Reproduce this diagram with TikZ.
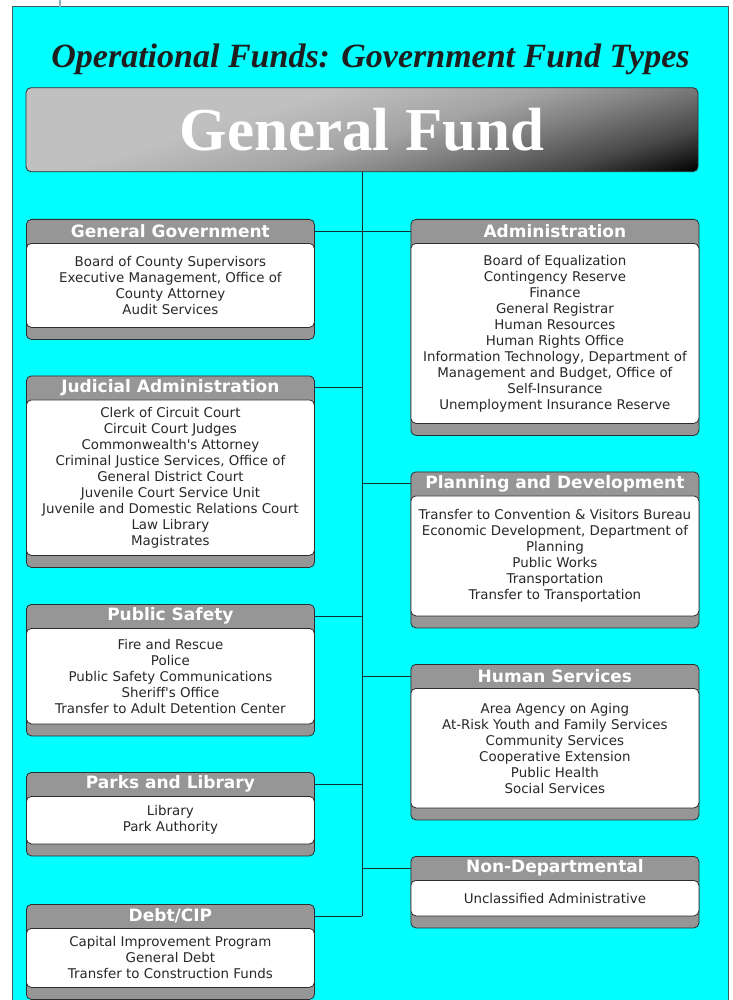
\documentclass[tikz,border=0pt]{standalone}
\usepackage{fontspec}
\usetikzlibrary{positioning}
\newfontfamily\deptfont{DejaVu Sans}
\newfontfamily\titlefont{Liberation Serif}
\definecolor{bgcyan}{RGB}{0,255,255}
\definecolor{framegray}{RGB}{60,95,95}
\definecolor{tickgray}{RGB}{140,176,190}
\definecolor{hdrgray}{RGB}{150,150,150}
\definecolor{boxline}{RGB}{45,45,45}
\definecolor{bodytext}{RGB}{40,40,40}
\definecolor{linkcol}{RGB}{20,45,45}
\definecolor{titlecol}{RGB}{30,30,30}
\definecolor{gfl}{RGB}{192,192,192}
\definecolor{gfm}{RGB}{164,164,164}
\definecolor{gfd}{RGB}{128,128,128}
\definecolor{gfk}{RGB}{72,72,72}
\pgfdeclarehorizontalshading{gfshade}{100bp}{color(0bp)=(gfl); color(41.5bp)=(gfl); color(52.5bp)=(gfm); color(59bp)=(gfd); color(67.5bp)=(gfk); color(75bp)=(black); color(100bp)=(black)}
\begin{document}
\begin{tikzpicture}[
		x=1pt, y=-1pt,
		gfbox/.style={rectangle, rounded corners=5pt, draw=boxline, line width=0.8pt, minimum width=672pt, minimum height=84pt, inner sep=0pt, text=white, font=\titlefont\bfseries\fontsize{61}{66}\selectfont},
		deptframe/.style={rectangle, rounded corners=5pt, draw=boxline, line width=0.8pt, fill=hdrgray, minimum width=288pt, inner sep=0pt, anchor=north west},
		depttitle/.style={inner sep=0pt, minimum height=24pt, text=white, font=\deptfont\bfseries\fontsize{17}{20}\selectfont},
		deptlist/.style={rectangle, rounded corners=5pt, draw=boxline, line width=0.8pt, fill=white, minimum width=288pt, inner sep=0pt, align=center, text=bodytext, font=\deptfont\fontsize{13.4}{16}\selectfont},
		link/.style={draw=linkcol, line width=0.9pt}
	]
	\useasboundingbox (0,0) rectangle (732,1000);
	\draw[framegray, fill=bgcyan, line width=1pt] (12,7) rectangle (728,1004);
	\draw[tickgray, line width=1.5pt] (60,0) -- (60,7);

	% heading
	\node[anchor=base, text=titlecol, font=\titlefont\bfseries\itshape\fontsize{34}{40}\selectfont] (title) at (370.5,68) {Operational Funds: Government Fund Types};
	\coordinate (gfc) at (362,129.7);
	\begin{scope}
		\clip[rounded corners=5pt] ([shift={(-336pt,42pt)}]gfc) rectangle ([shift={(336pt,-42pt)}]gfc);
		\begin{scope}[transform canvas={rotate around={-73.4:(gfc)}}]
			\shade[shading=gfshade] ([shift={(-135.85pt,-400pt)}]gfc) rectangle ([shift={(135.85pt,400pt)}]gfc);
		\end{scope}
	\end{scope}
	\node[gfbox] (gf) at (gfc) {General Fund};

	% left column
	\node[deptframe, minimum height=120pt] (gengov) at (26,219) {};
	\node[depttitle, below=0pt of gengov.north] (gengovtitle) {General Government};
	\node[deptlist, minimum height=84pt, below=24pt of gengov.north] (gengovlist) {Board of County Supervisors\\Executive Management, Office of\\County Attorney\\Audit Services};

	\node[deptframe, minimum height=191.5pt] (judadmin) at (26,375.5) {};
	\node[depttitle, below=0pt of judadmin.north] (judadmintitle) {Judicial Administration};
	\node[deptlist, minimum height=155.5pt, below=24pt of judadmin.north] (judadminlist) {Clerk of Circuit Court\\Circuit Court Judges\\Commonwealth\textquotesingle s Attorney\\Criminal Justice Services, Office of\\General District Court\\Juvenile Court Service Unit\\Juvenile and Domestic Relations Court\\Law Library\\Magistrates};

	\node[deptframe, minimum height=131.5pt] (pubsafety) at (26,604) {};
	\node[depttitle, below=0pt of pubsafety.north] (pubsafetytitle) {Public Safety};
	\node[deptlist, minimum height=95.5pt, below=24pt of pubsafety.north] (pubsafetylist) {Fire and Rescue\\Police\\Public Safety Communications\\Sheriff\textquotesingle s Office\\Transfer to Adult Detention Center};

	\node[deptframe, minimum height=83.5pt] (parklib) at (26,772) {};
	\node[depttitle, below=0pt of parklib.north] (parklibtitle) {Parks and Library};
	\node[deptlist, minimum height=47.5pt, below=24pt of parklib.north] (parkliblist) {Library\\Park Authority};

	\node[deptframe, minimum height=95pt] (debtcip) at (26,904) {};
	\node[depttitle, below=0pt of debtcip.north] (debtciptitle) {Debt/CIP};
	\node[deptlist, minimum height=59pt, below=24pt of debtcip.north] (debtciplist) {Capital Improvement Program\\General Debt\\Transfer to Construction Funds};

	% right column
	\node[deptframe, minimum height=216pt] (admin) at (410.5,219) {};
	\node[depttitle, below=0pt of admin.north] (admintitle) {Administration};
	\node[deptlist, minimum height=180pt, below=24pt of admin.north] (adminlist) {Board of Equalization\\Contingency Reserve\\Finance\\General Registrar\\Human Resources\\Human Rights Office\\Information Technology, Department of\\Management and Budget, Office of\\Self-Insurance\\Unemployment Insurance Reserve};

	\node[deptframe, minimum height=156pt] (plandev) at (410.5,471.5) {};
	\node[depttitle, below=0pt of plandev.north] (plandevtitle) {Planning and Development};
	\node[deptlist, minimum height=120pt, below=24pt of plandev.north] (plandevlist) {Transfer to Convention \& Visitors Bureau\\Economic Development, Department of\\Planning\\Public Works\\Transportation\\Transfer to Transportation};

	\node[deptframe, minimum height=155.5pt] (humserv) at (410.5,664) {};
	\node[depttitle, below=0pt of humserv.north] (humservtitle) {Human Services};
	\node[deptlist, minimum height=119.5pt, below=24pt of humserv.north] (humservlist) {Area Agency on Aging\\At-Risk Youth and Family Services\\Community Services\\Cooperative Extension\\Public Health\\Social Services};

	\node[deptframe, minimum height=71.5pt] (nondept) at (410.5,856) {};
	\node[depttitle, below=0pt of nondept.north] (nondepttitle) {Non-Departmental};
	\node[deptlist, minimum height=35.5pt, below=24pt of nondept.north] (nondeptlist) {Unclassified Administrative};

	% trunk and branches
	\draw[link] (gf.south) -- (gf.south |- debtciptitle);
	\draw[link] (gengov.east |- gengovtitle) -- (gengovtitle -| gf.south);
	\draw[link] (judadmin.east |- judadmintitle) -- (judadmintitle -| gf.south);
	\draw[link] (pubsafety.east |- pubsafetytitle) -- (pubsafetytitle -| gf.south);
	\draw[link] (parklib.east |- parklibtitle) -- (parklibtitle -| gf.south);
	\draw[link] (debtcip.east |- debtciptitle) -- (debtciptitle -| gf.south);
	\draw[link] (admintitle -| gf.south) -- (admin.west |- admintitle);
	\draw[link] (plandevtitle -| gf.south) -- (plandev.west |- plandevtitle);
	\draw[link] (humservtitle -| gf.south) -- (humserv.west |- humservtitle);
	\draw[link] (nondepttitle -| gf.south) -- (nondept.west |- nondepttitle);
\end{tikzpicture}
\end{document}
